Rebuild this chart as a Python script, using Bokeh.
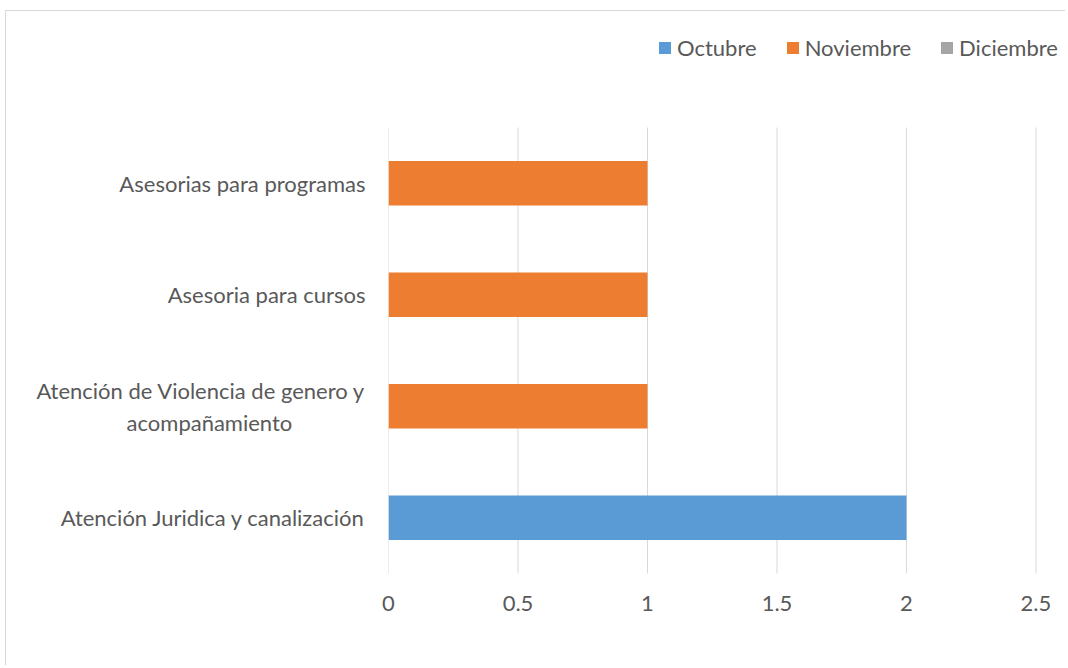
from bokeh.plotting import figure
from bokeh.models import ColumnDataSource, FixedTicker, Legend, Range1d
from bokeh.embed import file_html
from bokeh.resources import INLINE

categories = [
    "Atención Juridica y canalización",
    "Atención de Violencia de genero y\nacompañamiento",
    "Asesoria para cursos",
    "Asesorias para programas",
]
series = ["Octubre", "Noviembre", "Diciembre"]
octubre = [2, 0, 0, 0]
noviembre = [0, 1, 1, 1]
diciembre = [0, 0, 0, 0]
colors = ["#5B9BD5", "#ED7D31", "#A5A5A5"]
x_ticks = [0, 0.5, 1, 1.5, 2, 2.5]
x_tick_labels = ["0", "0.5", "1", "1.5", "2", "2.5"]

FONT = "Lato"
TXT = "#595959"
FS = "22px"

pos = list(range(len(categories)))
source = ColumnDataSource(data=dict(pos=pos, Octubre=octubre,
                                    Noviembre=noviembre, Diciembre=diciembre))

# centre the second line of wrapped labels (Excel centres wrapped lines)
def centred(label):
    lines = label.split("\n")
    if len(lines) == 1:
        return label
    return lines[0] + "\n" + lines[1] + "\u00a0" * 13

W, H = 1060, 655
p = figure(width=W, height=H, output_backend="svg", toolbar_location=None,
           x_range=Range1d(0, 2.5 + 30.5 / 258.8),
           y_range=Range1d(-0.5, 3.5 + 116 / 111.5),
           min_border_left=382, min_border_right=0, min_border_top=0,
           min_border_bottom=93,
           styles={"margin-left": "5px", "margin-top": "10px",
                   "border-top": "1px solid #d9d9d9",
                   "border-left": "1px solid #d9d9d9"})

# vertical gridlines over the category area only
p.segment(x0=x_ticks, y0=[-0.5] * len(x_ticks), x1=x_ticks, y1=[3.5] * len(x_ticks),
          line_color="#d9d9d9", line_width=1)

renderers = p.hbar_stack(series, y="pos", height=0.4, source=source,
                         color=colors, line_color=None)

p.outline_line_color = None
p.background_fill_color = "white"
p.border_fill_color = "white"
p.xgrid.grid_line_color = None
p.ygrid.grid_line_color = None

p.xaxis.ticker = FixedTicker(ticks=x_ticks)
p.xaxis.major_label_overrides = dict(zip(x_ticks, x_tick_labels))
p.yaxis.ticker = FixedTicker(ticks=pos)
p.yaxis.major_label_overrides = {k: centred(c) for k, c in zip(pos, categories)}

for ax in (p.xaxis, p.yaxis):
    ax.axis_line_color = None
    ax.major_tick_line_color = None
    ax.minor_tick_line_color = None
    ax.major_tick_out = 0
    ax.major_tick_in = 0
    ax.minor_tick_out = 0
    ax.minor_tick_in = 0
    ax.major_label_text_font = FONT
    ax.major_label_text_font_size = FS
    ax.major_label_text_color = TXT

p.xaxis.major_label_standoff = 22
p.yaxis.major_label_standoff = 23

legend = Legend(items=[(s, [r]) for s, r in zip(series, renderers)],
                orientation="horizontal", location=(269, 512))
legend.label_text_font = FONT
legend.label_text_font_size = FS
legend.label_text_color = TXT
legend.glyph_width = 15
legend.glyph_height = 15
legend.label_standoff = 5
legend.spacing = 28
legend.padding = 0
legend.margin = 0
legend.border_line_color = None
legend.background_fill_alpha = 0
legend.label_height = 20
p.add_layout(legend, "center")

open("out.html", "w").write(file_html(p, INLINE))
